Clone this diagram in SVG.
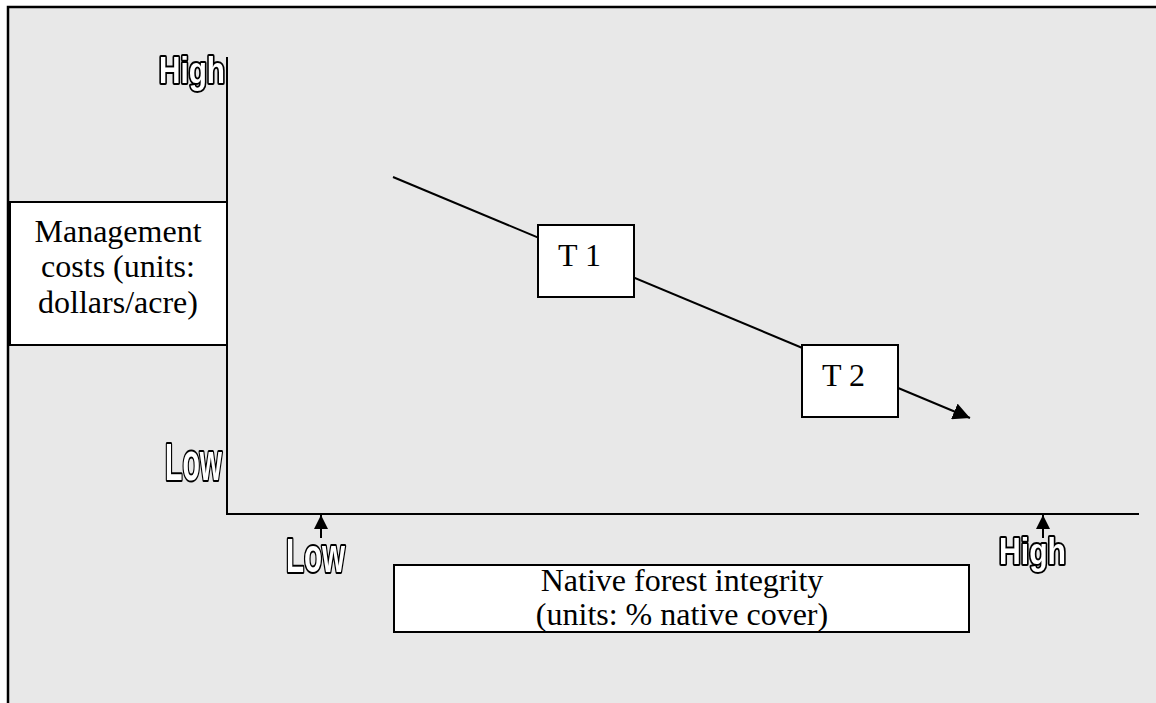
<svg xmlns="http://www.w3.org/2000/svg" width="1156" height="703" viewBox="0 0 1156 703">
<defs>
<style>
.box{fill:#fff;stroke:#000;stroke-width:2}
.lbl{font-family:"Liberation Serif","Times New Roman",serif;font-size:32px;fill:#000}
.wa{font-family:"Liberation Sans",Arial,sans-serif;font-weight:bold;fill:#fff;stroke:#000;stroke-width:4;paint-order:stroke;stroke-linejoin:round}
.ln{stroke:#000;stroke-width:2;fill:none}
</style>
<filter id="gs" x="-10%" y="-10%" width="120%" height="120%"><feColorMatrix type="saturate" values="0"/></filter>
<marker id="ah2" viewBox="0 0 10 10" refX="10" refY="5" markerWidth="14" markerHeight="14" orient="auto" markerUnits="userSpaceOnUse">
<path d="M0,0 L10,5 L0,10 Z" fill="#000"/>
</marker>
<marker id="ah3" viewBox="0 0 10 10" refX="10" refY="5" markerWidth="17" markerHeight="17" orient="auto" markerUnits="userSpaceOnUse">
<path d="M0,0 L10,5 L0,10 Z" fill="#000"/>
</marker>
</defs>
<rect x="0" y="0" width="1156" height="703" fill="#fff"/>
<rect x="8" y="7" width="1148" height="696" fill="#e8e8e8"/>
<path d="M8,703 V7 H1156" fill="none" stroke="#000" stroke-width="2.5"/>
<g id="axes">
<path class="ln" d="M227,57 V514 H1139"/>
</g>
<g id="connectors">
<path class="ln" d="M393,177 L970,418" marker-end="url(#ah3)"/>
<path class="ln" d="M321,538 V515" marker-end="url(#ah2)"/>
<path class="ln" d="M1043,538 V515" marker-end="url(#ah2)"/>
</g>
<g id="y-label">
<rect class="box" x="10" y="202" width="217" height="143"/>
<text class="lbl" text-anchor="middle" x="118" y="242">Management</text>
<text class="lbl" text-anchor="middle" x="118" y="277">costs (units:</text>
<text class="lbl" text-anchor="middle" x="118" y="313">dollars/acre)</text>
</g>
<g id="t1">
<rect class="box" x="538" y="225" width="96" height="72"/>
<text class="lbl" x="558" y="266">T 1</text>
</g>
<g id="t2">
<rect class="box" x="802" y="345" width="96" height="72"/>
<text class="lbl" x="822" y="386">T 2</text>
</g>
<g id="x-label">
<rect class="box" x="394" y="565" width="575" height="67"/>
<text class="lbl" text-anchor="middle" x="682" y="591">Native forest integrity</text>
<text class="lbl" text-anchor="middle" x="682" y="625">(units: % native cover)</text>
</g>
<g filter="url(#gs)">
<g id="y-high"><text class="wa" x="159" y="83" font-size="36" textLength="66" lengthAdjust="spacingAndGlyphs">High</text></g>
<g id="y-low"><text class="wa" x="165" y="480" font-size="51" textLength="57" lengthAdjust="spacingAndGlyphs">Low</text></g>
<g id="x-low"><text class="wa" x="286" y="572" font-size="49" textLength="59" lengthAdjust="spacingAndGlyphs">Low</text></g>
<g id="x-high"><text class="wa" x="999" y="564" font-size="36" textLength="67" lengthAdjust="spacingAndGlyphs">High</text></g>
</g>
</svg>
